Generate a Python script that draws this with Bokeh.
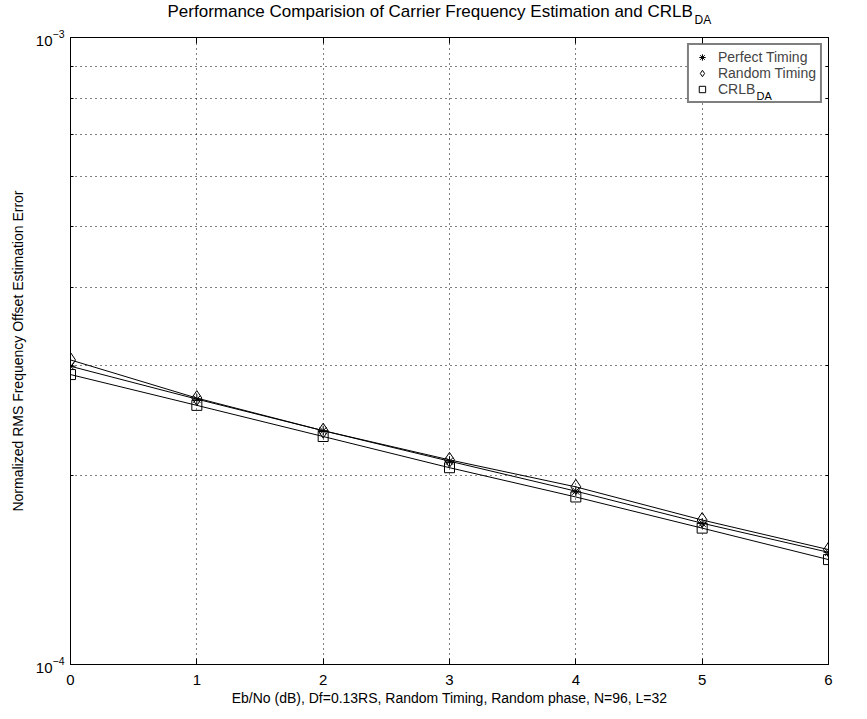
from bokeh.plotting import figure
from bokeh.models import (LinearAxis, LogAxis, FixedTicker, Legend, LegendItem, Label,
                          LogTickFormatter, Range1d, Title, BoxAnnotation)
from bokeh.embed import file_html
from bokeh.resources import INLINE

# ---- data ----
ebno = [0, 1, 2, 3, 4, 5, 6]
perfect_timing = [2.99e-4, 2.65e-4, 2.36e-4, 2.11e-4, 1.89e-4, 1.68e-4, 1.51e-4]
random_timing = [3.06e-4, 2.66e-4, 2.36e-4, 2.12e-4, 1.92e-4, 1.70e-4, 1.525e-4]
crlb_da = [2.90e-4, 2.59e-4, 2.31e-4, 2.06e-4, 1.85e-4, 1.65e-4, 1.47e-4]

x_ticks = [0, 1, 2, 3, 4, 5, 6]
y_major = [1e-4, 1e-3]
y_minor = [2e-4, 3e-4, 4e-4, 5e-4, 6e-4, 7e-4, 8e-4, 9e-4]

title_main = "Performance Comparision of Carrier Frequency Estimation and CRLB"
title_sub = "DA"
x_label = "Eb/No (dB), Df=0.13RS, Random Timing, Random phase, N=96, L=32"
y_label = "Normalized RMS Frequency Offset Estimation Error"
legend_labels = ["Perfect Timing", "Random Timing", "CRLB"]

FONT = "Liberation Sans"
FS_TICK = "15px"
FS_LABEL = "14px"

p = figure(width=867, height=719, x_range=Range1d(0, 6), y_range=Range1d(1e-4, 1e-3),
           y_axis_type="log", output_backend="svg", toolbar_location=None, title=None,
           min_border_left=70, min_border_right=39, min_border_top=37, min_border_bottom=55)
p.outline_line_color = "black"
p.background_fill_color = "white"
p.border_fill_color = "white"

xt = FixedTicker(ticks=x_ticks)
yt = FixedTicker(ticks=y_major, minor_ticks=y_minor)

def style_axis(ax, labels=True):
    ax.axis_line_color = "black"
    ax.major_tick_line_color = "black"
    ax.minor_tick_line_color = "black"
    ax.major_tick_in = 6
    ax.major_tick_out = 0
    ax.minor_tick_in = 3
    ax.minor_tick_out = 0
    ax.major_label_text_font = FONT
    ax.major_label_text_font_size = FS_TICK
    ax.major_label_text_color = "black"
    ax.axis_label_text_font = FONT
    ax.axis_label_text_font_size = FS_LABEL
    ax.axis_label_text_font_style = "normal"
    ax.axis_label_text_color = "black"
    if not labels:
        ax.major_label_text_font_size = "1px"
        ax.major_label_text_alpha = 0
        ax.major_label_standoff = 0

xa = p.xaxis[0]
xa.ticker = xt
xa.axis_label = x_label
style_axis(xa)
xa.minor_tick_line_color = None
xa.major_label_standoff = 10
xa.axis_label_standoff = 2

ya = p.yaxis[0]
ya.ticker = yt
ya.formatter = LogTickFormatter()
ya.axis_label = y_label
style_axis(ya)
ya.major_label_standoff = 6
ya.axis_label_standoff = 7

top = LinearAxis(ticker=xt)
style_axis(top, labels=False)
top.minor_tick_line_color = None
p.add_layout(top, "above")

right = LogAxis(ticker=yt)
style_axis(right, labels=False)
p.add_layout(right, "right")

for g in (p.xgrid[0], p.ygrid[0]):
    g.grid_line_color = "black"
    g.grid_line_dash = "1 4"
    g.grid_line_width = 1
p.xgrid[0].ticker = xt
p.ygrid[0].ticker = yt
p.ygrid[0].minor_grid_line_color = "black"
p.ygrid[0].minor_grid_line_dash = "1 4"

# lines
for ys in (perfect_timing, random_timing, crlb_da):
    p.line(ebno, ys, line_color="black", line_width=1)

r1 = p.scatter(ebno, perfect_timing, marker="asterisk", size=10, line_color="black", line_width=1)
r2 = p.scatter(ebno, random_timing, marker="diamond", size=15, line_color="black",
               fill_color=None, line_width=1)
r3 = p.scatter(ebno, crlb_da, marker="square", size=10, line_color="black",
               fill_color=None, line_width=1)

# white patch behind the (transparent) legend so the grid does not show through
p.add_layout(BoxAnnotation(left=617, right=752, top=621, bottom=562,
                           left_units="screen", right_units="screen",
                           top_units="screen", bottom_units="screen",
                           fill_color="white", fill_alpha=1, line_color=None))

legend = Legend(items=[LegendItem(label=legend_labels[0], renderers=[r1]),
                       LegendItem(label=legend_labels[1], renderers=[r2]),
                       LegendItem(label=legend_labels[2], renderers=[r3])],
                location="top_right")
legend.border_line_color = "black"
legend.border_line_width = 2
legend.background_fill_alpha = 0
legend.label_text_font = FONT
legend.label_text_font_size = FS_LABEL
legend.label_height = 16
legend.glyph_height = 16
legend.glyph_width = 18
legend.spacing = 0
legend.padding = 4
legend.margin = 6
legend.label_standoff = 7
p.add_layout(legend, "center")

# legend subscript (frame-relative screen units)
p.add_layout(Label(x=686, y=569, x_units="screen", y_units="screen", text=title_sub,
                   text_font=FONT, text_font_size="11px", text_color="black",
                   text_baseline="middle", text_align="left", level="overlay"))

# title: subscript line first (closer to the plot), then the main text
t_sub = Title(text=title_sub, align="left", offset=624, text_font=FONT,
              text_font_size="12px", text_font_style="normal", text_color="black",
              standoff=18, vertical_align="top")
t_main = Title(text=title_main, align="left", offset=97, text_font=FONT,
               text_font_size="17px", text_font_style="normal", text_color="black",
               vertical_align="bottom")
try:
    t_main.standoff = -34
except Exception:
    t_main.standoff = 0
p.add_layout(t_sub, "above")
p.add_layout(t_main, "above")

open("out.html", "w").write(file_html(p, INLINE))
